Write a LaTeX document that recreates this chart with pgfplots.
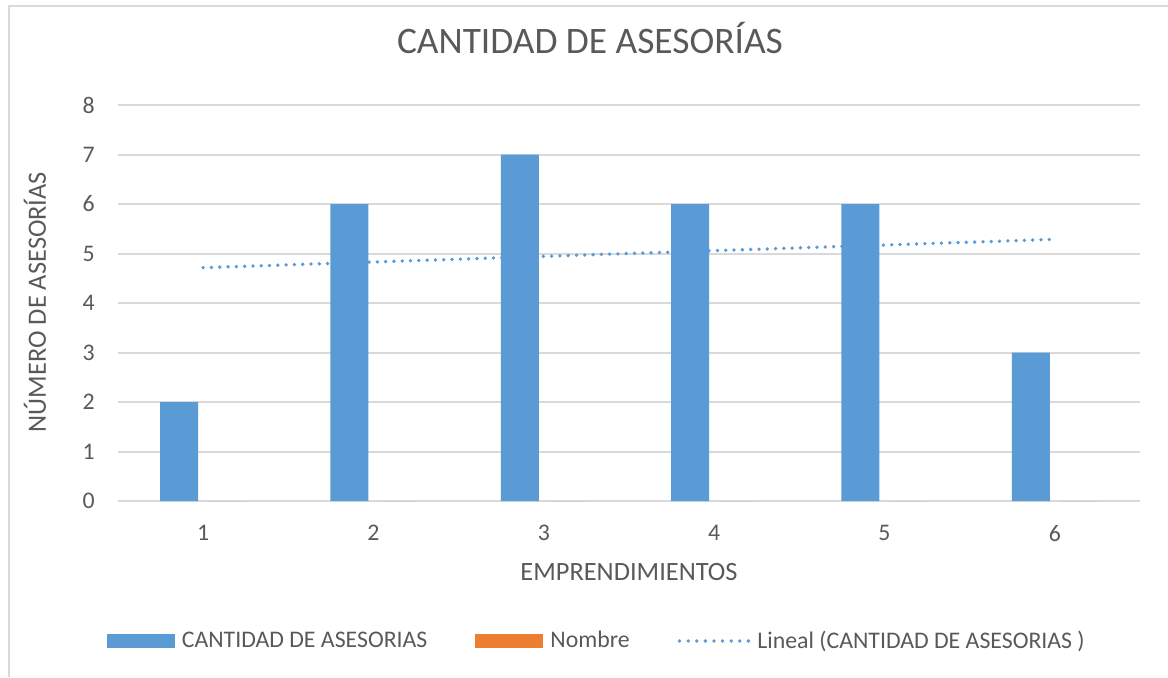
\documentclass[border=0pt]{standalone}
\usepackage{fontspec}
\setmainfont{Carlito}
\usepackage{pgfplots}
\pgfplotsset{compat=1.18}
\definecolor{cblue}{HTML}{5B9BD5}
\definecolor{corange}{HTML}{ED7D31}
\definecolor{ctext}{HTML}{595959}
\definecolor{cgrid}{HTML}{D9D9D9}
\begin{document}
\begin{tikzpicture}
\useasboundingbox (0,0) rectangle (584pt,338.5pt);
\draw[cgrid, line width=1pt] (4.5pt,0pt) -- (4.5pt,335.5pt) -- (584pt,335.5pt);
\begin{axis}[
  at={(59pt,88pt)}, anchor=south west,
  scale only axis, width=511pt, height=198pt,
  xmin=0.5, xmax=6.5, ymin=0, ymax=8,
  xtick={1,2,3,4,5,6}, ytick={0,1,2,3,4,5,6,7,8},
  axis line style={draw=none},
  major tick length=0pt,
  ymajorgrids, grid style={cgrid, line width=1pt},
  /pgf/number format/assume math mode=true,
  tick label style={font=\fontsize{11.9}{13}\selectfont, text=ctext, inner sep=0pt},
  xticklabel style={anchor=north, yshift=-12pt},
  yticklabel style={anchor=east, xshift=-11.5pt},
  title={CANTIDAD DE ASESORÍAS},
  title style={at={(axis description cs:0.4618,1.1389)}, anchor=center, font=\fontsize{18.7}{20}\selectfont, text=ctext},
  xlabel={EMPRENDIMIENTOS},
  xlabel style={at={(axis description cs:0.5,-0.179)}, anchor=center, font=\fontsize{13.2}{15}\selectfont, text=ctext},
  ylabel={NÚMERO DE ASESORÍAS},
  ylabel style={at={(axis description cs:-0.0812,0.5025)}, anchor=center, rotate=0, font=\fontsize{13.2}{15}\selectfont, text=ctext},
  legend columns=-1,
  legend style={draw=none, fill=none, at={(axis description cs:0.4695,-0.3535)}, anchor=center,
    font=\fontsize{11.9}{13}\selectfont, text=ctext,
    /tikz/every odd column/.append style={column sep=1.5pt},
    /tikz/every even column/.append style={column sep=22pt}},
]
\addplot[ybar, bar width=19pt, bar shift=-12pt, fill=cblue, draw=none,
  legend image code/.code={\fill[cblue] (0pt,-3.5pt) rectangle (34pt,3.5pt);}]
  coordinates {(1,2) (2,6) (3,7) (4,6) (5,6) (6,3)};
\addlegendentry{CANTIDAD DE ASESORIAS}
\addplot[ybar, bar width=19pt, bar shift=12pt, fill=corange, draw=none,
  legend image code/.code={\fill[corange] (0pt,-3.5pt) rectangle (34pt,3.5pt);}]
  coordinates {(1,0) (2,0) (3,0) (4,0) (5,0) (6,0)};
\addlegendentry{Nombre}
\addplot[cblue, line width=1.9pt, line cap=round, dash pattern=on 0pt off 4.15pt,
  legend image code/.code={\draw[cblue, line width=1.9pt, line cap=round, dash pattern=on 0pt off 4.3pt] (0.8pt,0pt) -- (35.25pt,0pt);}]
  coordinates {(1,4.714) (6,5.286)};
\addlegendentry{Lineal (CANTIDAD DE ASESORIAS )}
\end{axis}
\end{tikzpicture}
\end{document}
